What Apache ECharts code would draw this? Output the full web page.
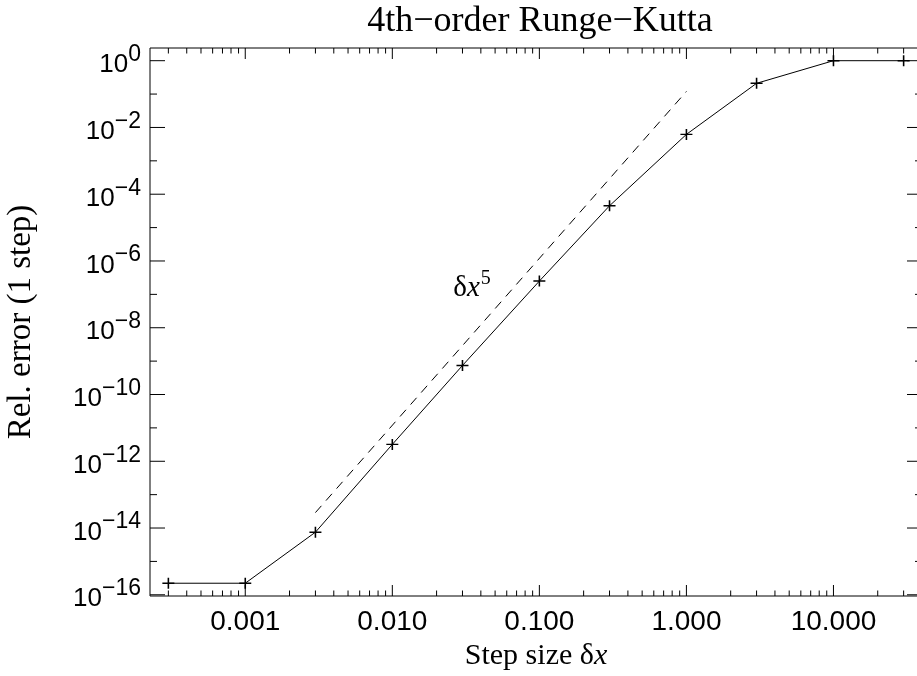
<!DOCTYPE html>
<html>
<head>
<meta charset="utf-8">
<title>4th-order Runge-Kutta step error</title>
<script src="https://cdn.jsdelivr.net/npm/echarts@6/dist/echarts.min.js"></script>
<style>
  html, body { margin: 0; padding: 0; background: #fff; }
  #chart { width: 917px; height: 676px; }
</style>
</head>
<body>
<div id="chart"></div>
<script>
// Step sizes and the relative error of a single RK4 step
const stepSizes = [0.0003, 0.001, 0.003, 0.01, 0.03, 0.1, 0.3, 1, 3, 10, 30];
const relErrors = [2.22e-16, 2.22e-16, 7.5e-15, 3.2e-12, 7.4e-10, 2.5e-7, 4.5e-5, 6.2e-3, 0.21, 1.0, 1.0];

// Reference slope line (error ~ dx^5), endpoints
const slopeRefX = [0.003, 1];
const slopeRefY = [2.9e-14, 0.12];
const slopeLabelAt = [0.026, 5.5e-8];

// Axis ranges and labelled ticks
const xRange = [0.000225, 40];
const yRange = [9.2e-17, 2.4];
const xTickValues = [0.001, 0.01, 0.1, 1, 10];
const xTickLabels = ['0.001', '0.010', '0.100', '1.000', '10.000'];
const yTickExponents = [0, -2, -4, -6, -8, -10, -12, -14, -16];
const yMinorExponents = [-1, -3, -5, -7, -9, -11, -13, -15];

const SANS = 'Liberation Sans';
const SERIF = 'Liberation Serif';

function isNear(a, b) { return Math.abs(Math.log10(a) - Math.log10(b)) < 1e-6; }

// Minor ticks on x: 2..9 times each decade, inside the range
const xMinorValues = [];
for (let p = -4; p <= 1; p++) {
  for (let k = 2; k <= 9; k++) {
    const v = k * Math.pow(10, p);
    if (v > xRange[0] && v < xRange[1]) xMinorValues.push(v);
  }
}

const chart = echarts.init(document.getElementById('chart'), null, { renderer: 'canvas' });

const option = {
  backgroundColor: '#fff',
  animation: false,
  title: {
    text: '4th\u2212order Runge\u2212Kutta',
    left: 535,
    textAlign: 'center',
    top: -1,
    textStyle: { fontFamily: SERIF, fontWeight: 'normal', fontSize: 36, color: '#000' }
  },
  grid: {
    left: 150, right: -5, top: 48, bottom: 80,
    show: true, borderColor: '#000', borderWidth: 1,
    containLabel: false, outerBoundsMode: 'none'
  },
  xAxis: {
    type: 'log', logBase: 10,
    min: xRange[0], max: xRange[1],
    axisLine: { show: false },
    axisTick: { show: false },
    splitLine: { show: false },
    axisLabel: {
      margin: 12,
      customValues: xTickValues,
      fontFamily: SANS, fontSize: 28, color: '#000',
      formatter: function (v) {
        for (let i = 0; i < xTickValues.length; i++) {
          if (isNear(v, xTickValues[i])) return xTickLabels[i];
        }
        return '';
      }
    },
    name: '{n|Step size \u03b4}{i|x}',
    nameLocation: 'middle',
    nameGap: 41,
    nameTextStyle: {
      rich: {
        n: { fontFamily: SERIF, fontSize: 30, color: '#000' },
        i: { fontFamily: SERIF, fontSize: 30, fontStyle: 'italic', color: '#000' }
      }
    }
  },
  yAxis: {
    type: 'log', logBase: 10,
    min: yRange[0], max: yRange[1],
    axisLine: { show: false },
    axisTick: { show: false },
    splitLine: { show: false },
    axisLabel: {
      margin: 9,
      customValues: yTickExponents.map(e => Math.pow(10, e)),
      formatter: function (v) {
        const e = Math.round(Math.log10(v));
        if (yTickExponents.indexOf(e) < 0) return '';
        const exp = e < 0 ? '\u2212' + (-e) : String(e);
        return '{b|10}{s|' + exp + '}';
      },
      rich: {
        b: { fontFamily: SANS, fontSize: 26, color: '#000', lineHeight: 35, verticalAlign: 'bottom' },
        s: { fontFamily: SANS, fontSize: 23, color: '#000', lineHeight: 35, verticalAlign: 'top' }
      }
    },
    name: 'Rel. error (1 step)',
    nameLocation: 'middle',
    nameRotate: 90,
    nameGap: 112,
    nameTextStyle: { fontFamily: SERIF, fontSize: 33, color: '#000' }
  },
  series: [
    {
      // tick marks on all four sides of the plot box
      type: 'custom',
      silent: true,
      clip: false,
      data: [[1, 1]],
      renderItem: function (params, api) {
        const cs = params.coordSys;
        const left = cs.x, right = cs.x + cs.width, top = cs.y, bottom = cs.y + cs.height;
        const children = [];
        const seg = (x1, y1, x2, y2) => children.push({
          type: 'line', shape: { x1: x1, y1: y1, x2: x2, y2: y2 },
          style: { stroke: '#000', lineWidth: 1 }
        });
        xTickValues.forEach(v => {
          const px = api.coord([v, yRange[0]])[0];
          seg(px, bottom, px, bottom - 11);
          seg(px, top, px, top + 11);
        });
        xMinorValues.forEach(v => {
          const px = api.coord([v, yRange[0]])[0];
          seg(px, bottom, px, bottom - 5.5);
          seg(px, top, px, top + 5.5);
        });
        yTickExponents.forEach(e => {
          const py = api.coord([xRange[0], Math.pow(10, e)])[1];
          seg(left, py, left + 15, py);
          seg(right, py, right - 15, py);
        });
        yMinorExponents.forEach(e => {
          const py = api.coord([xRange[0], Math.pow(10, e)])[1];
          seg(left, py, left + 7, py);
          seg(right, py, right - 7, py);
        });
        return { type: 'group', children: children };
      },
      z: 1
    },
    {
      name: 'RK4 error',
      type: 'line',
      data: stepSizes.map((x, i) => [x, relErrors[i]]),
      lineStyle: { color: '#000', width: 1 },
      symbol: 'path://M0,6L12,6M6,0L6,12',
      symbolSize: [12, 11],
      showSymbol: true,
      itemStyle: { color: 'rgba(0,0,0,0)', borderColor: '#000', borderWidth: 1.5 },
      z: 3
    },
    {
      name: 'dx^5',
      type: 'line',
      data: slopeRefX.map((x, i) => [x, slopeRefY[i]]),
      showSymbol: false,
      symbol: 'none',
      lineStyle: { color: '#000', width: 1, type: [9, 7] },
      z: 2
    },
    {
      // "δx^5" annotation beside the reference slope
      name: 'slope label',
      type: 'custom',
      silent: true,
      clip: false,
      data: [slopeLabelAt],
      renderItem: function (params, api) {
        const p = api.coord([api.value(0), api.value(1)]);
        return {
          type: 'text',
          x: p[0], y: p[1],
          style: {
            text: '{d|\u03b4}{x|x}{s|5}',
            align: 'left',
            verticalAlign: 'bottom',
            fill: '#000',
            rich: {
              d: { fontFamily: SERIF, fontSize: 29, fill: '#000', lineHeight: 34, verticalAlign: 'bottom' },
              x: { fontFamily: SERIF, fontSize: 29, fontStyle: 'italic', fill: '#000', lineHeight: 34, verticalAlign: 'bottom' },
              s: { fontFamily: SERIF, fontSize: 20, fill: '#000', lineHeight: 34, verticalAlign: 'top', padding: [0, 0, 0, 1] }
            }
          }
        };
      },
      z: 4
    }
  ]
};

chart.setOption(option);
</script>
</body>
</html>
